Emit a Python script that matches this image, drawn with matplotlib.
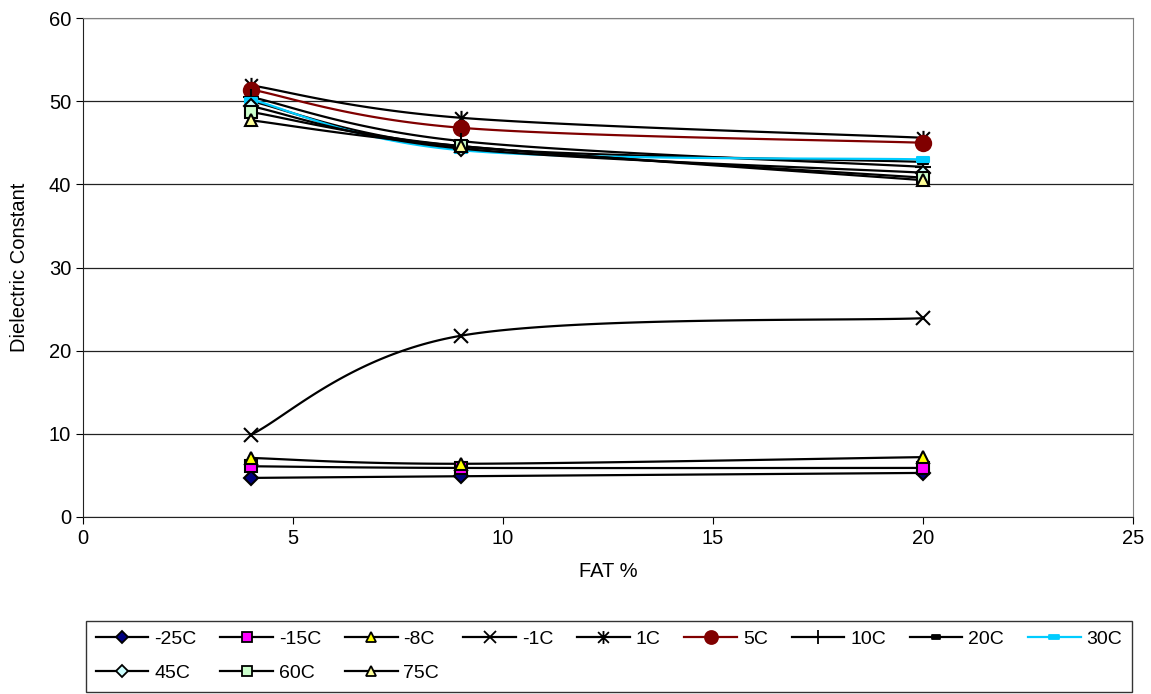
import numpy as np
import matplotlib.pyplot as plt
from matplotlib.path import Path

plt.rcParams['font.family'] = ['Liberation Sans', 'DejaVu Sans']

fat = [4, 9, 20]
labels = ['-25C', '-15C', '-8C', '-1C', '1C', '5C', '10C', '20C', '30C', '45C', '60C', '75C']
values = {
    '-25C': [4.7, 4.9, 5.3],
    '-15C': [6.1, 5.9, 5.9],
    '-8C': [7.1, 6.4, 7.2],
    '-1C': [9.9, 21.8, 23.9],
    '1C': [51.9, 48.0, 45.6],
    '5C': [51.4, 46.8, 45.0],
    '10C': [50.5, 45.2, 42.1],
    '20C': [50.0, 44.5, 42.7],
    '30C': [50.2, 44.1, 43.0],
    '45C': [49.4, 44.3, 41.4],
    '60C': [48.7, 44.6, 40.8],
    '75C': [47.7, 44.6, 40.5],
}

star = Path([(-1, -1), (1, 1), (-1, 1), (1, -1), (0, -1.2), (0, 1.2)],
            [Path.MOVETO, Path.LINETO, Path.MOVETO, Path.LINETO, Path.MOVETO, Path.LINETO])
dash = Path([(-1, -0.45), (1, -0.45), (1, 0.45), (-1, 0.45), (-1, -0.45)],
            [Path.MOVETO, Path.LINETO, Path.LINETO, Path.LINETO, Path.CLOSEPOLY])

# (line colour, marker, face colour, size)
styles = {
    '-25C': ('black', 'D', '#000080', 7),
    '-15C': ('black', 's', '#FF00FF', 8),
    '-8C': ('black', '^', '#FFFF00', 9),
    '-1C': ('black', 'x', 'none', 10),
    '1C': ('black', star, 'none', 11),
    '5C': ('#800000', 'o', '#800000', 11),
    '10C': ('black', '+', 'none', 12),
    '20C': ('black', dash, 'black', 7),
    '30C': ('#00CCFF', dash, '#00CCFF', 8),
    '45C': ('black', 'D', '#CCFFFF', 7),
    '60C': ('black', 's', '#CCFFCC', 9),
    '75C': ('black', '^', '#FFFF99', 9),
}


def smooth(xs, ys, n=60):
    # Catmull-Rom style smoothing like Excel's smoothed line
    xs = np.asarray(xs, float)
    ys = np.asarray(ys, float)
    px = np.concatenate([[xs[0]], xs, [xs[-1]]])
    py = np.concatenate([[ys[0]], ys, [ys[-1]]])
    ox, oy = [], []
    for i in range(1, len(px) - 2):
        p0 = np.array([px[i - 1], py[i - 1]])
        p1 = np.array([px[i], py[i]])
        p2 = np.array([px[i + 1], py[i + 1]])
        p3 = np.array([px[i + 2], py[i + 2]])
        c1 = p1 + (p2 - p0) / 6
        c2 = p2 - (p3 - p1) / 6
        t = np.linspace(0, 1, n)[:, None]
        b = (1 - t) ** 3 * p1 + 3 * (1 - t) ** 2 * t * c1 + 3 * (1 - t) * t ** 2 * c2 + t ** 3 * p2
        ox.extend(b[:, 0])
        oy.extend(b[:, 1])
    return ox, oy


fig = plt.figure(figsize=(11.51, 6.94), dpi=100)
ax = fig.add_axes([83 / 1151, 1 - 517 / 694, 1050 / 1151, 499 / 694])

handles = {}
for lab in labels:
    lc, mk, fc, ms = styles[lab]
    sx, sy = smooth(fat, values[lab])
    ax.plot(sx, sy, color=lc, lw=1.6, zorder=2)
    mec = lc if fc == 'none' or lab in ('5C', '20C', '30C') else 'black'
    ax.plot(fat, values[lab], linestyle='none', marker=mk, markersize=ms,
            markerfacecolor=fc, markeredgecolor=mec, markeredgewidth=1.5, zorder=3)
    handles[lab] = ax.plot([], [], color=lc, lw=1.6, marker=mk, markersize=ms * 0.85,
                           markerfacecolor=fc, markeredgecolor=mec, markeredgewidth=1.3)[0]

ax.set_xlim(0, 25)
ax.set_ylim(0, 60)
ax.set_xticks(range(0, 26, 5))
ax.set_yticks(range(0, 61, 10))
ax.yaxis.grid(True, color='#222222', lw=0.9)
ax.set_axisbelow(True)
for s in ax.spines.values():
    s.set_color('#808080')
ax.spines['left'].set_color('#222222')
ax.spines['bottom'].set_color('#222222')
ax.tick_params(direction='out', length=5, labelsize=14.5)
ax.set_xlabel('FAT %', fontsize=14.5, labelpad=10)
ax.set_ylabel('Dielectric Constant', fontsize=14.5, labelpad=14)

order = ['-25C', '45C', '-15C', '60C', '-8C', '75C', '-1C', '1C', '5C', '10C', '20C', '30C']
leg = fig.legend([handles[k] for k in order], order, ncol=9, loc='lower left',
                 bbox_to_anchor=(86 / 1151, 2 / 694, 1046 / 1151, 70 / 694), mode='expand',
                 fontsize=14, frameon=True, fancybox=False, handlelength=2.7,
                 handletextpad=0.3, columnspacing=1.0, borderaxespad=0,
                 labelspacing=0.85, borderpad=0.5)
leg.get_frame().set_edgecolor('black')
leg.get_frame().set_linewidth(1.0)

fig.savefig('out.png', dpi=100)
